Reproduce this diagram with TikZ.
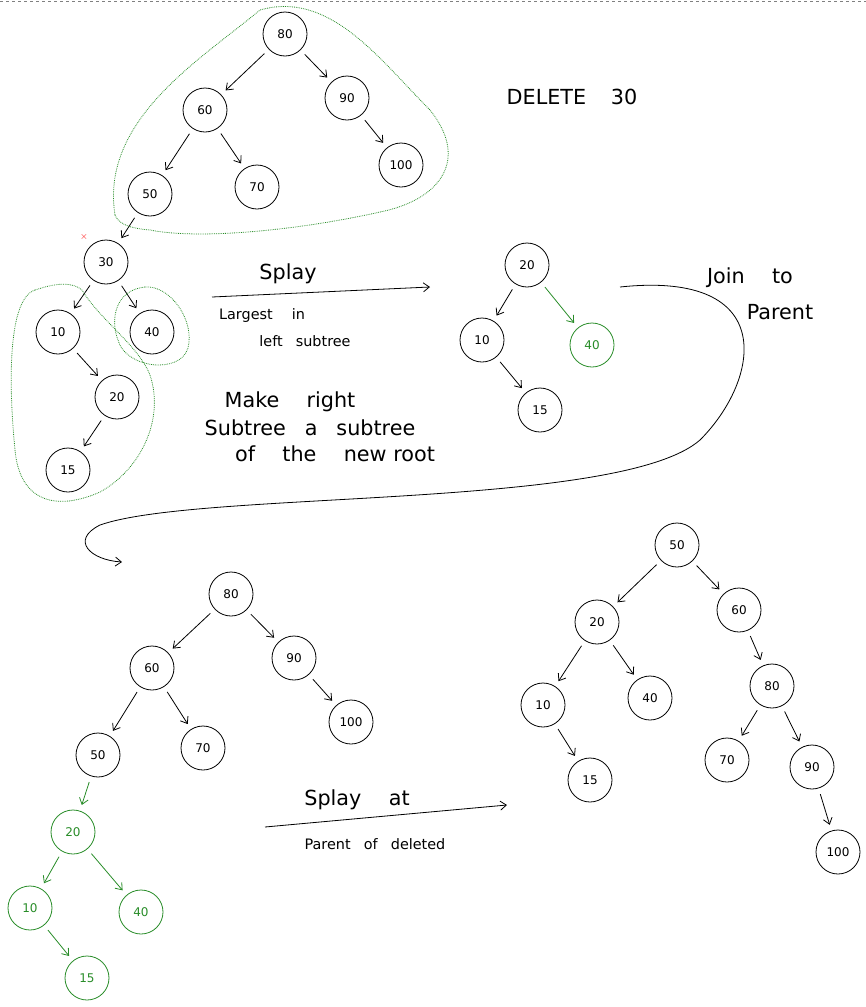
\documentclass[tikz,border=0pt]{standalone}
\usepackage{fontspec}
\setmainfont{DejaVu Sans}
\usetikzlibrary{arrows.meta}
\definecolor{greenink}{RGB}{40,140,40}
\tikzset{
  key/.style={circle,draw,thick,minimum size=44pt,inner sep=0pt,font=\large},
  gkey/.style={key,draw=greenink,text=greenink},
  link/.style={-{Straight Barb[length=6pt,width=9pt]},thick,shorten <=6pt,shorten >=6pt},
  glink/.style={link,greenink},
  blob/.style={draw=greenink,densely dotted,thick},
  note/.style={font=\huge},
  small/.style={font=\Large}
}
\begin{document}
\begin{tikzpicture}[x=1pt,y=-1pt]
\useasboundingbox (0,0) rectangle (866,1007);
\draw[gray,dashed] (0,1) -- (866,1);
% original tree
\node[key] (a80) at (285,34) {80};
\node[key] (a60) at (205,110) {60};
\node[key] (a90) at (347,98) {90};
\node[key] (a50) at (150,194) {50};
\node[key] (a70) at (257,187) {70};
\node[key] (a100) at (401,165) {100};
\node[key] (a30) at (106,262) {30};
\node[key] (a10) at (58,332) {10};
\node[key] (a40) at (152,332) {40};
\node[key] (a20) at (117,397) {20};
\node[key] (a15) at (68,470) {15};
\draw[link] (a80) -- (a60);
\draw[link] (a80) -- (a90);
\draw[link] (a60) -- (a50);
\draw[link] (a60) -- (a70);
\draw[link] (a90) -- (a100);
\draw[link] (a50) -- (a30);
\draw[link] (a30) -- (a10);
\draw[link] (a30) -- (a40);
\draw[link] (a10) -- (a20);
\draw[link] (a20) -- (a15);
\node[red] (cross) at (84,237) {$\times$};
\draw[blob] (115,215) .. controls (100,120) and (200,60) .. (260,10) .. controls (330,-10) and (380,60) .. (430,110) .. controls (470,160) and (440,200) .. (380,212) .. controls (300,230) and (200,240) .. (150,230) .. controls (125,228) and (118,222) .. (115,215);
\draw[blob] (145,287) .. controls (115,290) and (110,320) .. (118,340) .. controls (125,368) and (180,375) .. (188,348) .. controls (195,320) and (170,285) .. (145,287);
\draw[blob] (35,290) .. controls (5,300) and (10,400) .. (15,450) .. controls (20,505) and (60,510) .. (100,492) .. controls (140,470) and (165,420) .. (150,375) .. controls (138,345) and (100,320) .. (82,290) .. controls (70,280) and (50,285) .. (35,290);
\node[note] (del) at (572,97) {DELETE \;\; 30};
% splay step
\coordinate (s1) at (212,297);
\coordinate (s2) at (430,287);
\draw[-{Straight Barb[length=6pt,width=9pt]},thick] (s1) -- (s2);
\node[note] (splay) at (288,274) {Splay};
\node[small] (lar) at (262,316) {Largest \quad in};
\node[small] (lst) at (305,341) {left \; subtree};
\node[note] (mk1) at (290,402) {Make \quad right};
\node[note] (mk2) at (310,428) {Subtree \; a \; subtree};
\node[note] (mk3) at (335,454) {of \quad the \quad new root};
% middle tree
\node[key] (b20) at (527,265) {20};
\node[key] (b10) at (482,340) {10};
\node[gkey] (b40) at (592,345) {40};
\node[key] (b15) at (540,410) {15};
\draw[link] (b20) -- (b10);
\draw[glink] (b20) -- (b40);
\draw[link] (b10) -- (b15);
\node[note] (join) at (750,278) {Join \quad to};
\node[note] (par) at (780,312) {Parent};
\coordinate (j1) at (620,287);
\coordinate (j2) at (122,562);
\draw[-{Straight Barb[length=6pt,width=9pt]},thick] (j1) .. controls (780,270) and (760,380) .. (700,440) .. controls (620,510) and (200,490) .. (100,525) .. controls (70,540) and (90,560) .. (j2);
% joined tree
\node[key] (c80) at (231,594) {80};
\node[key] (c60) at (152,668) {60};
\node[key] (c90) at (294,658) {90};
\node[key] (c50) at (98,755) {50};
\node[key] (c70) at (203,748) {70};
\node[key] (c100) at (351,722) {100};
\node[gkey] (c20) at (73,832) {20};
\node[gkey] (c10) at (30,908) {10};
\node[gkey] (c40) at (141,912) {40};
\node[gkey] (c15) at (87,978) {15};
\draw[link] (c80) -- (c60);
\draw[link] (c80) -- (c90);
\draw[link] (c60) -- (c50);
\draw[link] (c60) -- (c70);
\draw[link] (c90) -- (c100);
\draw[glink] (c50) -- (c20);
\draw[glink] (c20) -- (c10);
\draw[glink] (c20) -- (c40);
\draw[glink] (c10) -- (c15);
% second splay
\coordinate (t1) at (265,827);
\coordinate (t2) at (507,805);
\draw[-{Straight Barb[length=6pt,width=9pt]},thick] (t1) -- (t2);
\node[note] (splat) at (357,800) {Splay \quad at};
\node[small] (pod) at (375,844) {Parent \; of \; deleted};
% result tree
\node[key] (d50) at (677,545) {50};
\node[key] (d20) at (597,622) {20};
\node[key] (d60) at (739,610) {60};
\node[key] (d10) at (543,705) {10};
\node[key] (d40) at (650,698) {40};
\node[key] (d80) at (772,686) {80};
\node[key] (d15) at (590,780) {15};
\node[key] (d70) at (727,760) {70};
\node[key] (d90) at (812,767) {90};
\node[key] (d100) at (838,852) {100};
\draw[link] (d50) -- (d20);
\draw[link] (d50) -- (d60);
\draw[link] (d20) -- (d10);
\draw[link] (d20) -- (d40);
\draw[link] (d10) -- (d15);
\draw[link] (d60) -- (d80);
\draw[link] (d80) -- (d70);
\draw[link] (d80) -- (d90);
\draw[link] (d90) -- (d100);
\end{tikzpicture}
\end{document}
